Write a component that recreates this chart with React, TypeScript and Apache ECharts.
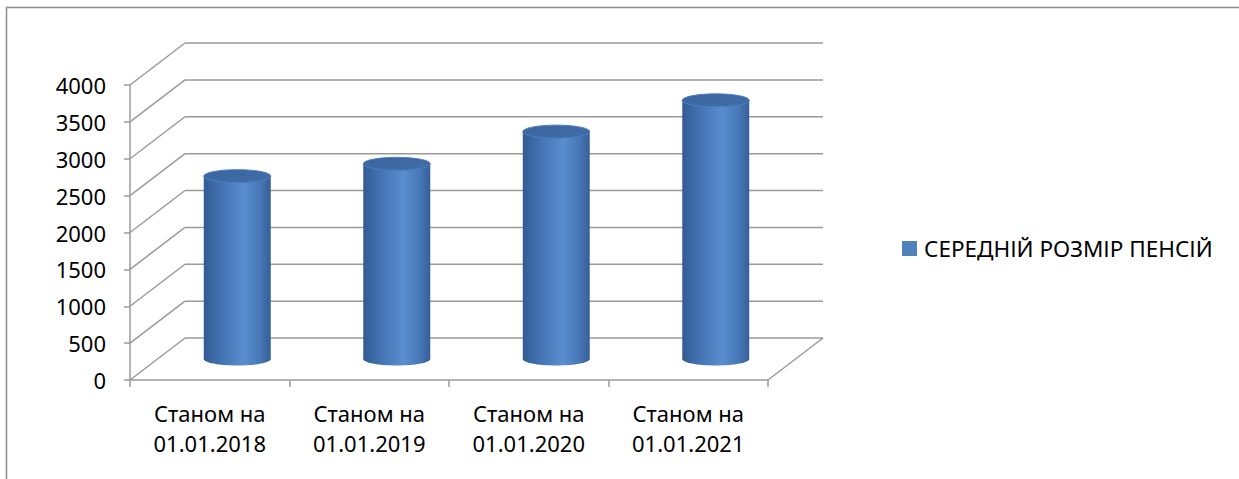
import React, { useEffect, useRef } from "react";
import * as echarts from "echarts";

const categories = [
  "Станом на\n01.01.2018",
  "Станом на\n01.01.2019",
  "Станом на\n01.01.2020",
  "Станом на\n01.01.2021",
];
const seriesName = "СЕРЕДНІЙ РОЗМІР ПЕНСІЙ";
const values = [2479, 2646, 3083, 3507];
const yTicks = [0, 500, 1000, 1500, 2000, 2500, 3000, 3500, 4000];

const DX = 55;
const DY = -42;
const GRID_COLOR = "#9a9a9a";
const FONT = "Noto Sans";

export default function App() {
  const ref = useRef<HTMLDivElement>(null);

  useEffect(() => {
    if (!ref.current) return;
    const chart = echarts.init(ref.current, null, { renderer: "svg" });

    const wallsRender = (params: any, api: any) => {
      const v = api.value(1);
      const p = api.coord([0, v]);
      const cs = params.coordSys;
      const left = cs.x;
      const right = cs.x + cs.width;
      const y = p[1];
      const style = { stroke: GRID_COLOR, lineWidth: 1.5, fill: null };
      const children: any[] = [
        { type: "line", shape: { x1: left, y1: y, x2: left + DX, y2: y + DY }, style },
        { type: "line", shape: { x1: left + DX, y1: y + DY, x2: right + DX, y2: y + DY }, style },
      ];
      if (v === 0) {
        children.push({
          type: "line",
          shape: { x1: right, y1: y, x2: right + DX, y2: y + DY },
          style,
        });
      }
      return { type: "group", children };
    };

    const cylRender = (params: any, api: any) => {
      const idx = api.value(0);
      const val = api.value(1);
      const top = api.coord([idx, val]);
      const base = api.coord([idx, 0]);
      const w = api.size([1, 0])[0] * 0.42;
      const cx = top[0] + DX / 2;
      const topY = top[1] + DY / 2;
      const baseY = base[1] + DY / 2;
      const rx = w / 2;
      const ry = 6.5;
      const bodyGrad = new echarts.graphic.LinearGradient(0, 0, 1, 0, [
        { offset: 0, color: "#335b93" },
        { offset: 0.25, color: "#4272b2" },
        { offset: 0.6, color: "#5a8dd0" },
        { offset: 0.85, color: "#4676b5" },
        { offset: 1, color: "#375f99" },
      ]);
      const topGrad = new echarts.graphic.LinearGradient(0, 0, 1, 1, [
        { offset: 0, color: "#3a659f" },
        { offset: 1, color: "#416da9" },
      ]);
      return {
        type: "group",
        children: [
          {
            type: "ellipse",
            shape: { cx, cy: baseY, rx, ry },
            style: { fill: bodyGrad },
          },
          {
            type: "rect",
            shape: { x: cx - rx, y: topY, width: w, height: baseY - topY },
            style: { fill: bodyGrad },
          },
          {
            type: "ellipse",
            shape: { cx, cy: topY, rx, ry },
            style: { fill: topGrad, stroke: "#4d7fbf", lineWidth: 1 },
          },
        ],
      };
    };

    chart.setOption({
      animation: false,
      backgroundColor: "#ffffff",
      textStyle: { fontFamily: FONT },
      grid: { left: 130, top: 85, right: 471, bottom: 99, containLabel: false },
      legend: {
        data: [seriesName],
        left: 897,
        top: 232,
        icon: "rect",
        itemWidth: 15,
        itemHeight: 15,
        itemGap: 10,
        textStyle: { fontSize: 22.5, color: "#000", fontFamily: FONT, padding: [0, 0, 0, 2] },
      },
      xAxis: {
        type: "category",
        data: categories,
        axisLine: { show: true, lineStyle: { color: GRID_COLOR, width: 1.5 } },
        axisTick: { show: true, length: 7, lineStyle: { color: GRID_COLOR, width: 1.5 } },
        axisLabel: {
          fontSize: 22,
          color: "#000",
          lineHeight: 30,
          margin: 18,
          fontFamily: FONT,
        },
        splitLine: { show: false },
      },
      yAxis: {
        type: "value",
        min: 0,
        max: 4000,
        interval: 500,
        axisLine: { show: true, lineStyle: { color: GRID_COLOR, width: 1.5 } },
        axisTick: { show: true, length: 6, lineStyle: { color: GRID_COLOR, width: 1.5 } },
        axisLabel: {
          fontSize: 22,
          color: "#000",
          margin: 24,
          fontFamily: FONT,
          formatter: (v: number) => String(v),
        },
        splitLine: { show: false },
      },
      graphic: [
        {
          type: "rect",
          shape: { x: 6.5, y: 7.5, width: 1400, height: 600 },
          style: { fill: null, stroke: "#8c8c8c", lineWidth: 1.5 },
          silent: true,
        },
      ],
      series: [
        {
          type: "custom",
          name: "walls",
          data: yTicks.map((v) => [0, v]),
          encode: { x: 0, y: 1 },
          renderItem: wallsRender,
          silent: true,
          z: 1,
        },
        {
          type: "custom",
          name: seriesName,
          data: values.map((v, i) => [i, v]),
          encode: { x: 0, y: 1 },
          itemStyle: { color: "#4f81bd" },
          renderItem: cylRender,
          z: 3,
        },
      ],
    });

    return () => chart.dispose();
  }, []);

  return (
    <div
      ref={ref}
      style={{ position: "fixed", left: 0, top: 0, width: 1239, height: 479 }}
    />
  );
}
